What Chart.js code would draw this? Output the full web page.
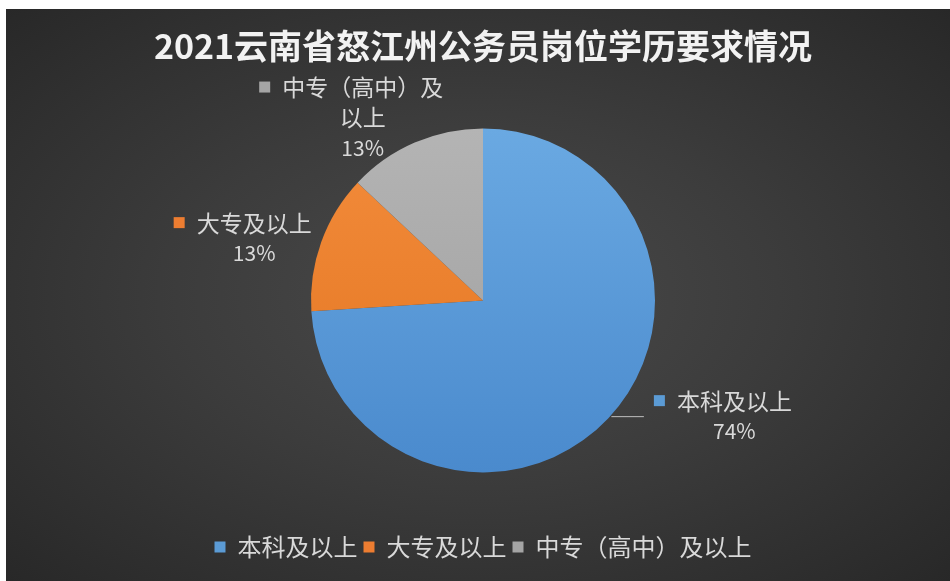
<!DOCTYPE html>
<html>
<head>
<meta charset="utf-8">
<script src="https://cdn.jsdelivr.net/npm/chart.js@4.4.1/dist/chart.umd.min.js"></script>
<style>
html, body { margin: 0; padding: 0; background: #fff; }
#wrap {
    position: absolute; left: 6px; top: 9px; width: 944px; height: 572px;
    background: radial-gradient(ellipse at 50% 50%, #4a4a4a 0%, #3c3c3c 45%, #282828 100%);
}
</style>
</head>
<body>
<div id="wrap"><canvas id="pieCanva"></canvas></div>
<script>
var categories = ['本科及以上', '大专及以上', '中专（高中）及以上'];
var shares = [74, 13, 13];
var sliceColors = ['#5b9bd5', '#ed7d31', '#a5a5a5'];
var sliceTop = ['#6aa9e2', '#f38c3c', '#b4b4b4'];
var sliceBottom = ['#4a8acd', '#e2741f', '#9d9d9d'];
// data label text, wrapped the way the original wraps it
var labelLines = [['本科及以上'], ['大专及以上'], ['中专（高中）及', '以上']];

var FONT = '"Noto Sans CJK SC", "Noto Sans", sans-serif';
var textColor = '#d9d9d9';

// where each label block sits, relative to the arc mid point
var labelOffsets = [[126, -17], [-67, -19], [-52, -55]];

var outsideLabels = {
    id: 'outsideLabels',
    afterDatasetsDraw: function (chart) {
        var ctx = chart.ctx;
        var meta = chart.getDatasetMeta(0);
        var total = shares.reduce(function (a, b) { return a + b; }, 0);
        ctx.save();
        meta.data.forEach(function (arc, i) {
            var p = arc.getProps(['x', 'y', 'startAngle', 'endAngle', 'outerRadius']);
            var mid = (p.startAngle + p.endAngle) / 2;
            var ex = p.x + Math.cos(mid) * p.outerRadius;
            var ey = p.y + Math.sin(mid) * p.outerRadius;
            var cx = ex + labelOffsets[i][0];
            var cy = ey + labelOffsets[i][1];
            var lines = labelLines[i].slice();
            lines.push(Math.round(shares[i] / total * 100) + '%');

            ctx.textAlign = 'center';
            ctx.textBaseline = 'middle';
            ctx.fillStyle = textColor;
            lines.forEach(function (t, k) {
                var last = k === lines.length - 1;
                ctx.font = (last ? '21px ' : '23px ') + FONT;
                ctx.fillText(t, cx, cy + k * 30);
                if (k === 0) {
                    var w = ctx.measureText(t).width;
                    var mx = cx - w / 2 - 23;
                    ctx.fillStyle = sliceColors[i];
                    ctx.fillRect(mx, cy - 6, 11, 11);
                    ctx.fillStyle = textColor;
                    if (i === 0) {
                        ctx.strokeStyle = '#bfbfbf';
                        ctx.lineWidth = 1;
                        ctx.beginPath();
                        ctx.moveTo(ex + 3, ey - 1.5);
                        ctx.lineTo(mx - 10, ey - 1.5);
                        ctx.stroke();
                    }
                }
            });
        });
        ctx.restore();
    }
};

function sliceFill(context) {
    var i = context.dataIndex;
    var area = context.chart.chartArea;
    if (!area) return sliceColors[i];
    var c = context.chart;
    var cy = (area.top + area.bottom) / 2;
    var g = c.ctx.createLinearGradient(0, cy - 172, 0, cy + 172);
    g.addColorStop(0, sliceTop[i]);
    g.addColorStop(1, sliceBottom[i]);
    return g;
}

var ctx = document.getElementById('pieCanva').getContext('2d');

var pieChart = new Chart(ctx, {
    type: 'pie',
    data: {
        labels: categories,
        datasets: [{
            data: shares,
            backgroundColor: sliceFill,
            borderWidth: 0,
            radius: 172
        }]
    },
    options: {
        responsive: true,
        maintainAspectRatio: false,
        animation: false,
        layout: { padding: { left: 10, right: 0, top: 0, bottom: 12 } },
        plugins: {
            title: {
                display: true,
                text: '2021云南省怒江州公务员岗位学历要求情况',
                color: '#f2f2f2',
                font: { family: FONT, size: 34, weight: 'bold' },
                padding: { top: 17, bottom: 5 }
            },
            legend: {
                position: 'bottom',
                labels: {
                    color: textColor,
                    font: { family: FONT, size: 24 },
                    boxWidth: 11,
                    boxHeight: 11,
                    padding: 6,
                    generateLabels: function (chart) {
                        return categories.map(function (c, i) {
                            return {
                                text: c, fillStyle: sliceColors[i], strokeStyle: sliceColors[i],
                                lineWidth: 0, fontColor: textColor, index: i, hidden: false
                            };
                        });
                    }
                }
            },
            tooltip: { enabled: false }
        }
    },
    plugins: [outsideLabels]
});
</script>
</body>
</html>
